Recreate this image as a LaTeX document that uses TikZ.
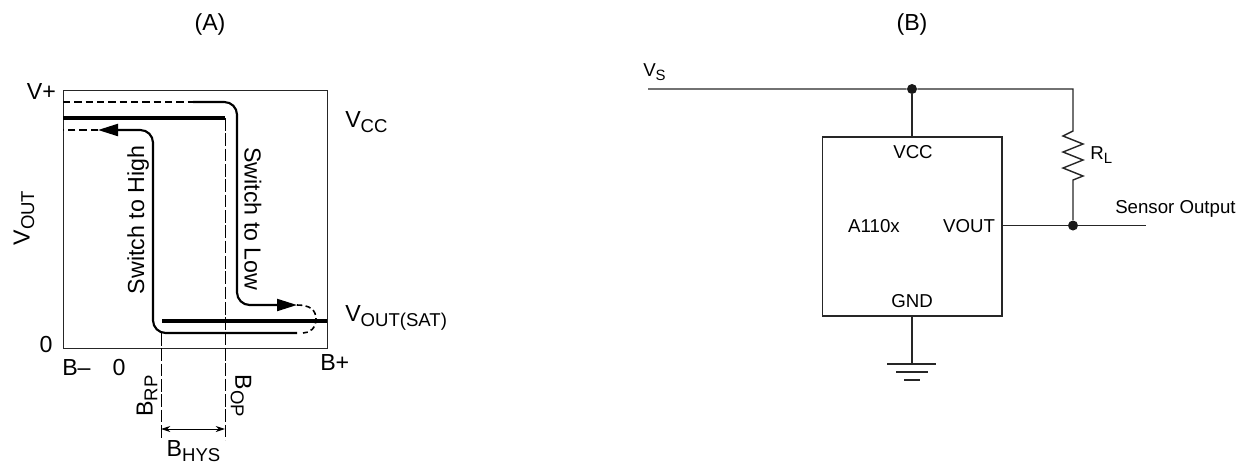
\documentclass[tikz,border=0pt]{standalone}
\usepackage{fontspec}
\setmainfont{Liberation Sans}
\usetikzlibrary{arrows.meta}
\newcommand\lowtext[1]{\raisebox{-.2em}{\scalebox{.8}{#1}}}
\tikzset{
  lab/.style={inner sep=0pt,font=\fontsize{17.4pt}{20pt}\selectfont},
  small/.style={inner sep=0pt,font=\fontsize{14pt}{16pt}\selectfont},
  frameline/.style={draw=black!85,line width=.65pt},
  curve/.style={line width=1.6pt,rounded corners=9.5pt},
  dashcurve/.style={line width=1.2pt,dash pattern=on 5.5pt off 3pt},
  thickline/.style={line width=3.4pt},
  guide/.style={line width=.65pt,dash pattern=on 9.5pt off 2pt},
  wire/.style={draw=black!85,line width=1.05pt},
  dot/.style={circle,fill=black!90,inner sep=0pt,minimum size=7.5pt},
  dimtip/.style={{Stealth[length=7pt,width=4.5pt]}-{Stealth[length=7pt,width=4.5pt]}}
}
\begin{document}
\begin{tikzpicture}[x=.75pt,y=-.75pt]
\useasboundingbox (0,0) rectangle (1246,465);
% ---------- (A)
\node[lab] (ta) at (210,24) {(A)};
\coordinate (bl) at (63,348); \coordinate (tl) at (63,90);
\coordinate (tr) at (327,90); \coordinate (br) at (327,348);
\draw[frameline] (tl) -- (tr) -- (br) -- (bl) -- cycle;
% guides
\coordinate (opT) at (225,118); \coordinate (opB) at (225,440);
\coordinate (rpT) at (161,333); \coordinate (rpB) at (161,440);
\draw[guide] (opT) -- (opB);
\draw[guide] (rpT) -- (rpB);
\coordinate (hl) at (161,429); \coordinate (hr) at (225,429);
\draw[dimtip,line width=.65pt] (hl) -- (hr);
% thick levels
\coordinate (hiL) at (63,118); \coordinate (loL) at (162,321); \coordinate (loR) at (327,321);
\draw[thickline] (hiL) -- (opT);
\draw[thickline] (loL) -- (loR);
% switch to low
\coordinate (a1) at (63,102); \coordinate (a2) at (193,102);
\coordinate (a3) at (237,102); \coordinate (a4) at (237,305); \coordinate (a5) at (297,305);
\draw[dashcurve] (a1) -- (a2);
\draw[curve,-{Triangle[length=15pt,width=9pt]}] (a2) -- (a3) -- (a4) -- (a5);
% switch to high
\coordinate (b1) at (297,333); \coordinate (b2) at (153,333);
\coordinate (b3) at (153,130); \coordinate (b4) at (98,130); \coordinate (b5) at (63,130);
\draw[curve,-{Triangle[length=15pt,width=9pt]}] (b1) -- (b2) -- (b3) -- (b4);
\draw[dashcurve] (b4) -- (b5);
% dashed return
\coordinate (c1) at (303,333);
\draw[dashcurve,dash pattern=on 4pt off 2.5pt] (a5) .. controls (310,305) and (316,310) .. (316,319) .. controls (316,328) and (310,333) .. (c1);
% texts
\node[lab] (vp) at (41.5,92) {V+};
\node[lab] (z1) at (46,345) {0};
\node[lab,anchor=west] (bm) at (62,368) {B–};
\node[lab] (z2) at (119,368) {0};
\node[lab,anchor=west] (bp) at (320,363) {B+};
\node[lab,rotate=90] (vout) at (24,218) {V\lowtext{OUT}};
\node[lab,anchor=west] (vcc) at (345,122) {V\lowtext{CC}};
\node[lab,anchor=west] (vsat) at (345,318) {V\lowtext{OUT(SAT)}};
\node[lab,rotate=90] (sh) at (138,220) {Switch to High};
\node[lab,rotate=-90] (sl) at (253,219) {Switch to Low};
\node[lab,rotate=90] (brp) at (147,396) {B\lowtext{RP}};
\node[lab,rotate=-90] (bop) at (241,396) {B\lowtext{OP}};
\node[lab] (bhys) at (193.5,451) {B\lowtext{HYS}};
% ---------- (B)
\node[lab] (tb) at (912,24) {(B)};
\node[small,anchor=west] (vs) at (643,72) {V\lowtext{S}};
\draw[wire] (822.5,137) rectangle (1002,316);
\node[inner sep=0pt,minimum width=135pt,minimum height=134pt] (ic) at (912.25,226.5) {};
\node[small] (pvcc) at (913,152) {VCC};
\node[small] (pic) at (874,226) {A110x};
\node[small] (pvout) at (969,226) {VOUT};
\node[small] (pgnd) at (912,301) {GND};
\coordinate (s0) at (648,89);
\node[dot] (j1) at (912,89) {};
\coordinate (s1) at (1073,89);
\node[dot] (j2) at (1073,225.5) {};
\coordinate (o) at (1146,225.5);
\coordinate (icv) at (1002,225.5);
\coordinate (icc) at (912,137);
\coordinate (icg) at (912,316);
\coordinate (g1) at (912,364);
\coordinate (r1) at (1073,131); \coordinate (r2) at (1073,180);
\draw[wire] (s0) -- (j1) -- (s1) -- (r1)
  -- (1063,136) -- (1083,144) -- (1063,152) -- (1083,160) -- (1063,168) -- (1083,176) -- (r2) -- (j2);
\draw[wire] (j1) -- (icc);
\draw[wire] (icv) -- (j2) -- (o);
\draw[wire] (icg) -- (g1);
\draw[wire] (887,364) -- (936,364);
\draw[wire] (896,372) -- (928,372);
\draw[wire] (904,380) -- (920,380);
\node[small,anchor=west] (rl) at (1090,155) {R\lowtext{L}};
\node[small,anchor=west] (so) at (1115,209) {Sensor Output};
\end{tikzpicture}
\end{document}
